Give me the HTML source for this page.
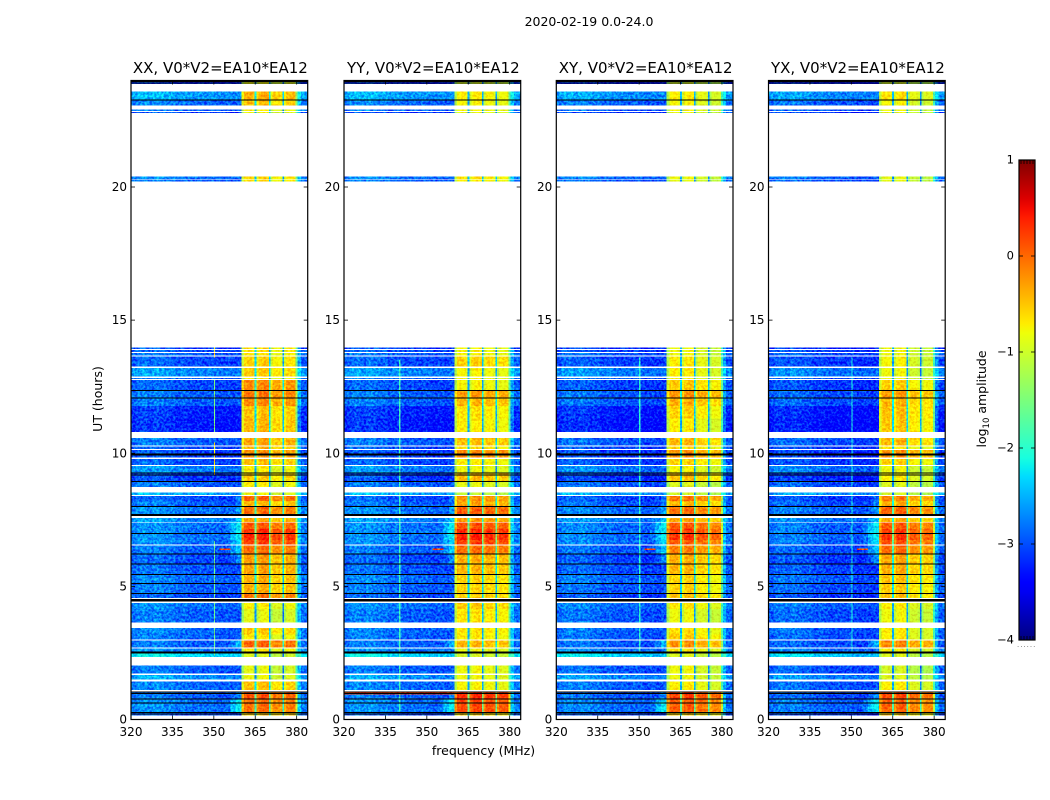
<!DOCTYPE html>
<html lang="en">
<head>
<meta charset="utf-8">
<title>2020-02-19 dynamic spectrum</title>
<style>
  html, body { margin: 0; padding: 0; background: #fff; }
  svg { display: block; }
  text { font-family: "DejaVu Sans", "Liberation Sans", sans-serif; fill: #000; }
</style>
</head>
<body>
<svg id="figure" xmlns="http://www.w3.org/2000/svg" width="1050" height="800" viewBox="0 0 1050 800">
  <defs>
    <filter id="speckle" filterUnits="userSpaceOnUse" x="0" y="0" width="1050" height="800" color-interpolation-filters="sRGB">
      <feTurbulence type="fractalNoise" baseFrequency="0.42" numOctaves="2" seed="7" result="noise"/>
      <feColorMatrix in="noise" type="matrix" values="0.4 0 0 0 0.3  2.4 0 0 0 -0.7  0.4 0 0 0 0.3  0 0 0 0 1" result="tint"/>
      <feComposite in="SourceGraphic" in2="tint" operator="arithmetic" k1="0" k2="1" k3="0.48" k4="-0.24" result="mixed"/>
      <feComposite in="mixed" in2="SourceAlpha" operator="in"/>
    </filter>
    <filter id="speckle-soft" filterUnits="userSpaceOnUse" x="0" y="0" width="1050" height="800" color-interpolation-filters="sRGB">
      <feTurbulence type="fractalNoise" baseFrequency="0.42" numOctaves="2" seed="11" result="noise"/>
      <feColorMatrix in="noise" type="matrix" values="0.4 0 0 0 0.3  2.4 0 0 0 -0.7  0.4 0 0 0 0.3  0 0 0 0 1" result="tint"/>
      <feComposite in="SourceGraphic" in2="tint" operator="arithmetic" k1="0" k2="1" k3="0.28" k4="-0.14" result="mixed"/>
      <feComposite in="mixed" in2="SourceAlpha" operator="in"/>
    </filter>
    <linearGradient id="jet-gradient" x1="0" y1="1" x2="0" y2="0"></linearGradient>
  </defs>
  <text x="589" y="26" font-size="12.5" text-anchor="middle">2020-02-19 0.0-24.0</text>
  <text x="483.5" y="755" font-size="12.5" text-anchor="middle">frequency (MHz)</text>
  <text x="102" y="399" font-size="12.5" text-anchor="middle" transform="rotate(-90 102 399)">UT (hours)</text>
  <text x="986" y="399" font-size="12.5" text-anchor="middle" transform="rotate(-90 986 399)">log<tspan font-size="8.5" dy="3">10</tspan><tspan dy="-3"> amplitude</tspan></text>
  <g id="heatmaps" filter="url(#speckle)" shape-rendering="crispEdges"></g>
  <g id="heatmaps-band" filter="url(#speckle-soft)" shape-rendering="crispEdges"></g>
  <g id="flags" shape-rendering="crispEdges"></g>
  <g id="axes"></g>
  <g id="colorbar"></g>
</svg>
<script>
// ---- Chart data (UT hours, MHz, log10 amplitude) ----
const panelTitles = ["XX, V0*V2=EA10*EA12", "YY, V0*V2=EA10*EA12", "XY, V0*V2=EA10*EA12", "YX, V0*V2=EA10*EA12"];
const freqTicks = [320, 335, 350, 365, 380];
const utTicks = [0, 5, 10, 15, 20];
const colorbarTicks = [1, 0, -1, -2, -3, -4];
const colorbarLabels = ["1", "0", "\u22121", "\u22122", "\u22123", "\u22124"];

const rowLo = [23.86,23.28,23.07,22.85,22.77,20.31,20.21,13.92,13.81,13.68,13.25,12.88,12.79,12.38,12.10,11.78,11.30,10.79,10.30,10.16,9.85,9.56,9.27,8.93,8.73,8.43,8.20,8.02,7.65,7.42,7.15,6.99,6.75,6.58,6.23,5.86,5.46,5.13,4.75,4.56,4.44,4.15,3.64,3.20,3.00,2.70,2.55,2.34,1.72,1.50,1.10,0.75,0.29,0.15];
const rowHi = [24.00,23.59,23.28,22.91,22.81,20.39,20.28,13.98,13.88,13.77,13.63,13.21,12.83,12.75,12.38,12.10,11.78,11.30,10.58,10.26,10.12,9.79,9.52,9.27,8.93,8.53,8.39,8.20,8.02,7.56,7.39,7.15,6.99,6.75,6.53,6.23,5.86,5.46,5.13,4.75,4.53,4.38,4.15,3.43,3.20,2.96,2.67,2.55,2.03,1.68,1.43,1.06,0.75,0.29];
const rowBackground = [-3.3,-2.7,-2.95,-3.0,-3.2,-2.9,-3.0,-3.2,-3.1,-3.0,-3.1,-2.8,-3.0,-3.1,-3.0,-3.0,-3.3,-3.35,-3.0,-3.1,-3.15,-3.1,-2.85,-3.2,-3.0,-2.65,-3.1,-3.0,-2.9,-2.8,-2.9,-2.9,-2.9,-2.9,-3.0,-3.1,-3.05,-2.95,-3.0,-3.1,-3.3,-2.9,-3.0,-2.95,-3.0,-3.0,-2.85,-2.4,-3.0,-2.75,-2.95,-3.0,-2.9,-3.1];
const rowShoulder = [-9,-9,-9,-9,-9,-9,-9,-9,-9,-9,-9,-9,-9,-9,-9,-9,-9,-9,-9,-9,-9,-9,-9,-9,-9,-9,-2.7,-2.7,-2.5,-2.3,-2.1,-2.1,-2.1,-2.2,-2.3,-2.6,-9,-9,-9,-9,-9,-9,-9,-9,-9,-2.4,-9,-9,-9,-9,-9,-2.6,-2.1,-9];

const levelsXX = [-0.9,-0.45,-0.55,-0.8,-0.9,-0.65,-0.7,-0.7,-0.7,-0.75,-0.65,-0.6,-0.8,-0.25,-0.15,-0.25,-0.55,-0.5,-0.4,-0.5,-0.3,-0.55,-0.8,-0.6,-0.8,-0.9,-0.05,-0.5,-0.1,-0.4,0.0,0.25,0.3,0.15,-0.1,-0.35,-0.4,-0.45,-0.45,-0.15,-0.6,-0.8,-0.95,-0.6,-0.8,-0.05,-0.75,-1.0,-0.95,-0.9,-0.55,0.05,-0.1,-0.6];
const levelsYY = [-1.0,-0.75,-0.8,-0.8,-0.9,-0.7,-0.75,-0.8,-0.8,-0.8,-0.6,-0.8,-0.8,-0.8,-0.3,-0.45,-0.7,-0.75,-0.5,-0.7,-0.2,-0.75,-0.85,-0.45,-0.9,-1.1,-0.25,-0.35,0.05,-0.3,0.1,0.3,0.35,0.2,-0.05,-0.4,-0.45,-0.6,-0.6,-0.55,-0.6,-0.55,-0.7,-0.7,-0.75,-0.45,-0.85,-1.0,-0.85,-0.85,-0.8,0.3,0.15,-0.6];
const levelsXY = [-1.0,-0.75,-0.8,-0.8,-0.9,-0.85,-0.9,-0.85,-0.85,-0.85,-0.75,-0.75,-0.8,-0.55,-0.25,-0.4,-0.6,-0.75,-0.45,-0.65,-0.25,-0.6,-0.8,-0.5,-0.95,-1.0,-0.1,-0.45,-0.05,-0.35,0.05,0.2,0.25,0.05,-0.15,-0.4,-0.45,-0.6,-0.6,-0.5,-0.7,-0.7,-0.85,-0.65,-0.55,-0.25,-0.7,-0.95,-0.85,-0.85,-0.75,0.2,0.05,-0.6];
const levelsYX = [-1.0,-0.7,-0.8,-0.85,-0.9,-0.9,-0.9,-0.85,-0.85,-0.85,-0.8,-0.85,-0.85,-0.6,-0.3,-0.45,-0.5,-0.55,-0.45,-0.7,-0.25,-0.6,-0.85,-0.75,-0.95,-1.0,-0.15,-0.4,0.0,-0.4,0.05,0.2,0.25,0.1,-0.05,-0.35,-0.4,-0.5,-0.55,-0.5,-0.7,-0.75,-0.85,-0.75,-0.75,-0.2,-0.75,-0.95,-1.0,-0.95,-0.75,0.15,0.0,-0.6];
const panelLevels = [levelsXX, levelsYY, levelsXY, levelsYX];

const subbandOffsetsXX = [0.1, 0.1, -0.1, 0];
const subbandOffsetsYY = [0.05, 0.05, 0, -0.05];
const subbandOffsetsXY = [0.05, 0.05, -0.1, -0.2];
const subbandOffsetsYX = [0.05, 0.05, -0.15, -0.2];
const panelSubbands = [subbandOffsetsXX, subbandOffsetsYY, subbandOffsetsXY, subbandOffsetsYX];
const panelBackgroundOffset = [0.1, 0.1, 0.05, 0];

const columnEdges = [320,322,324,326,328,330,332,334,336,338,340,342,344,346,348,350,352,354,356,358,360,361,362,363,364,364.8,365.5,366.2,367,368,369,369.9,370.5,371.2,372,373,374,374.9,375.5,376.2,377,378,379,379.6,380.3,381.5,384];
const backgroundRipple = [0.05,0.15,0.2,0.1,0.2,0.15,0.1,0.1,0,0.05,0,-0.05,0,-0.05,0,-0.05,-0.1,-0.05,-0.1,-0.05];
const shoulderShape = [-9,-9,-9,-9,-9,-9,-9,-9,-9,-9,-9,-9,-9,-9,-9,-9,-1.0,-0.7,-0.35,-0.1];
const channelShape = [-0.45,-0.05,0,0,-0.1,-1.8,-0.3,-0.05,0,0.05,0,-1.8,-0.3,0,0,0,-0.1,-1.8,-0.3,0,0,0,0,-0.9];
const channelSubband = [0,0,0,0,0,0,1,1,1,1,1,1,2,2,2,2,2,2,3,3,3,3,3,3];
const upperRipple = [0.45, 0.05];

const rfiPanel = [0,0,0,0,1,2,3];
const rfiFreq = [350,350,350,350,340,350,350];
const rfiLo = [13.6,10.8,9.2,2.4,0.3,2.5,2.5];
const rfiHi = [13.98,12.75,10.4,6.7,13.5,13.6,13.6];
const rfiLevel = [-0.5,-1.5,-0.7,-1.6,-1.9,-2.0,-2.1];

const burstPanel = [1,0,1,2,3];
const burstLo = [0.94,6.36,6.36,6.36,6.36];
const burstHi = [1.03,6.42,6.42,6.42,6.42];
const burstFreqLo = [320,352,352,352,352];
const burstFreqHi = [360,356,356,356,356];
const burstLevel = [0.25,0.2,0.2,0.2,0.2];

const flaggedLo = [23.95,23.89,23.25,12.35,12.08,9.97,9.92,9.25,9.19,8.93,8.00,7.65,6.99,6.21,5.83,5.42,5.09,4.73,4.44,2.48,1.04,0.97,0.75,0.61,0.26,0.20];
const flaggedHi = [23.98,23.92,23.28,12.38,12.10,10.00,9.95,9.27,9.21,8.95,8.02,7.71,7.01,6.23,5.86,5.46,5.13,4.75,4.53,2.55,1.06,0.99,0.79,0.64,0.29,0.23];

// ---- Layout ----
const panelLeft = [131, 344, 556.3, 768.5];
const panelWidth = 176.7;
const plotTop = 80.5, plotBottom = 719.5;
const freqMin = 320, freqMax = 384, utMin = 0, utMax = 24, ampMin = -4, ampMax = 1;
const cbLeft = 1019, cbWidth = 16, cbTop = 160, cbBottom = 640;
const NS = "http://www.w3.org/2000/svg";

function xScale(p, f) { return panelLeft[p] + (f - freqMin) / (freqMax - freqMin) * panelWidth; }
function yScale(ut) { return plotBottom - (ut - utMin) / (utMax - utMin) * (plotBottom - plotTop); }
function cbScale(v) { return cbBottom - (v - ampMin) / (ampMax - ampMin) * (cbBottom - cbTop); }

function ramp(t, pts) {
  if (t <= pts[0][0]) return pts[0][1];
  for (let i = 1; i < pts.length; i++) {
    if (t <= pts[i][0]) {
      const a = pts[i - 1], b = pts[i];
      return a[1] + (b[1] - a[1]) * (t - a[0]) / (b[0] - a[0]);
    }
  }
  return pts[pts.length - 1][1];
}
function jet(v) {
  const t = Math.max(0, Math.min(1, (v - ampMin) / (ampMax - ampMin)));
  const r = ramp(t, [[0.35, 0], [0.66, 1], [0.89, 1], [1, 0.5]]);
  const g = ramp(t, [[0.125, 0], [0.375, 1], [0.64, 1], [0.91, 0]]);
  const b = ramp(t, [[0, 0.5], [0.11, 1], [0.34, 1], [0.65, 0]]);
  return "rgb(" + Math.round(r * 255) + "," + Math.round(g * 255) + "," + Math.round(b * 255) + ")";
}
function svgEl(tag, attrs) {
  const el = document.createElementNS(NS, tag);
  for (const k in attrs) el.setAttribute(k, attrs[k]);
  return el;
}
function columnValue(p, r, c) {
  const bg = rowBackground[r] + panelBackgroundOffset[p];
  const nLow = backgroundRipple.length;
  if (c < nLow) return Math.max(bg + backgroundRipple[c], rowShoulder[r] + shoulderShape[c]);
  const k = c - nLow;
  if (k < channelShape.length) return panelLevels[p][r] + panelSubbands[p][channelSubband[k]] + channelShape[k];
  return bg + upperRipple[k - channelShape.length];
}
function isBandColumn(c) {
  const k = c - backgroundRipple.length;
  return k >= 0 && k < channelShape.length;
}

// ---- Heatmap cells ----
const heatLayer = document.getElementById("heatmaps");
const bandLayer = document.getElementById("heatmaps-band");
panelTitles.forEach(function (title, p) {
  const group = svgEl("g", {});
  
  
  const bandGroup = svgEl("g", {});
  
  
  for (let r = 0; r < rowLo.length; r++) {
    const y0 = yScale(rowHi[r]), y1 = yScale(rowLo[r]);
    for (let c = 0; c < columnEdges.length - 1; c++) {
      const x0 = xScale(p, columnEdges[c]), x1 = xScale(p, columnEdges[c + 1]);
      const cell = svgEl("rect", { x: x0.toFixed(2), y: y0.toFixed(2), width: (x1 - x0).toFixed(2), height: (y1 - y0).toFixed(2), fill: jet(columnValue(p, r, c)) });
      
      
      (isBandColumn(c) ? bandGroup : group).appendChild(cell);
    }
    // Narrow-band interference: vertical lines clipped to rows that hold data
    for (let i = 0; i < rfiFreq.length; i++) {
      if (rfiPanel[i] !== p) continue;
      const lo = Math.max(rowLo[r], rfiLo[i]), hi = Math.min(rowHi[r], rfiHi[i]);
      if (hi <= lo) continue;
      const line = svgEl("rect", { x: xScale(p, rfiFreq[i]).toFixed(2), y: yScale(hi).toFixed(2), width: 1.2, height: (yScale(lo) - yScale(hi)).toFixed(2), fill: jet(rfiLevel[i]) });
      
      
      group.appendChild(line);
    }
  }
  // Short bursts
  for (let i = 0; i < burstPanel.length; i++) {
    if (burstPanel[i] !== p) continue;
    const xa = xScale(p, burstFreqLo[i]), xb = xScale(p, burstFreqHi[i]);
    const burst = svgEl("rect", { x: xa.toFixed(2), y: yScale(burstHi[i]).toFixed(2), width: (xb - xa).toFixed(2), height: (yScale(burstLo[i]) - yScale(burstHi[i])).toFixed(2), fill: jet(burstLevel[i]) });
    
    
    group.appendChild(burst);
  }
  heatLayer.appendChild(group);
  bandLayer.appendChild(bandGroup);
});

// ---- Flagged (black) time lines ----
const flagLayer = document.getElementById("flags");
panelTitles.forEach(function (title, p) {
  for (let i = 0; i < flaggedLo.length; i++) {
    const x0 = xScale(p, freqMin), x1 = xScale(p, freqMax);
    const y0 = yScale(flaggedHi[i]), y1 = yScale(flaggedLo[i]);
    const flag = svgEl("rect", { x: x0.toFixed(2), y: y0.toFixed(2), width: (x1 - x0).toFixed(2), height: Math.max(1, y1 - y0).toFixed(2), fill: "#000" });
    
    
    flagLayer.appendChild(flag);
  }
});

// ---- Axes ----
const axesLayer = document.getElementById("axes");
panelTitles.forEach(function (title, p) {
  const left = panelLeft[p], right = left + panelWidth;
  const frame = svgEl("rect", { x: left, y: plotTop, width: panelWidth, height: plotBottom - plotTop, fill: "none", stroke: "#000", "stroke-width": 1.2 });
  
  
  axesLayer.appendChild(frame);

  const label = svgEl("text", { x: left + panelWidth / 2 + 1, y: 73, "font-size": 15, "text-anchor": "middle" });
  
  
  label.textContent = title;
  axesLayer.appendChild(label);

  freqTicks.forEach(function (f) {
    const x = xScale(p, f);
    const bottomTick = svgEl("line", { x1: x, x2: x, y1: plotBottom, y2: plotBottom - 4, stroke: "#000", "stroke-width": 0.8 });
    
    
    axesLayer.appendChild(bottomTick);
    const topTick = svgEl("line", { x1: x, x2: x, y1: plotTop, y2: plotTop + 4, stroke: "#000", "stroke-width": 0.8 });
    
    
    axesLayer.appendChild(topTick);
    const xLabel = svgEl("text", { x: x, y: 736, "font-size": 12, "text-anchor": "middle" });
    
    
    xLabel.textContent = String(f);
    axesLayer.appendChild(xLabel);
  });

  utTicks.forEach(function (u) {
    const y = yScale(u);
    const leftTick = svgEl("line", { x1: left, x2: left + 4, y1: y, y2: y, stroke: "#000", "stroke-width": 0.8 });
    
    
    axesLayer.appendChild(leftTick);
    const rightTick = svgEl("line", { x1: right, x2: right - 4, y1: y, y2: y, stroke: "#000", "stroke-width": 0.8 });
    
    
    axesLayer.appendChild(rightTick);
    const yLabel = svgEl("text", { x: left - 4, y: y + 4, "font-size": 12, "text-anchor": "end" });
    
    
    yLabel.textContent = String(u);
    axesLayer.appendChild(yLabel);
  });
});

// ---- Colorbar ----
const gradient = document.getElementById("jet-gradient");
for (let i = 0; i <= 50; i++) {
  const stop = svgEl("stop", { offset: (i * 2) + "%", "stop-color": jet(ampMin + (ampMax - ampMin) * i / 50) });
  gradient.appendChild(stop);
}
const cbLayer = document.getElementById("colorbar");
const cbBar = svgEl("rect", { x: cbLeft, y: cbTop, width: cbWidth, height: cbBottom - cbTop, fill: "url(#jet-gradient)", stroke: "#000", "stroke-width": 1.2 });


cbLayer.appendChild(cbBar);
colorbarTicks.forEach(function (v, i) {
  const y = cbScale(v);
  const tickL = svgEl("line", { x1: cbLeft, x2: cbLeft + 4, y1: y, y2: y, stroke: "#000", "stroke-width": 0.8 });
  
  
  cbLayer.appendChild(tickL);
  const tickR = svgEl("line", { x1: cbLeft + cbWidth, x2: cbLeft + cbWidth - 4, y1: y, y2: y, stroke: "#000", "stroke-width": 0.8 });
  
  
  cbLayer.appendChild(tickR);
  const cbLabel = svgEl("text", { x: cbLeft - 5, y: y + 3.5, "font-size": 11.5, "text-anchor": "end" });
  
  
  cbLabel.textContent = colorbarLabels[i];
  cbLayer.appendChild(cbLabel);
});
for (let i = 0; i < 5; i++) {
  const x = cbLeft + 2 + i * 3;
  const minorTop = svgEl("line", { x1: x, x2: x, y1: cbTop, y2: cbTop + 4, stroke: "#000", "stroke-width": 0.8 });
  
  
  cbLayer.appendChild(minorTop);
  const minorBottom = svgEl("line", { x1: x, x2: x, y1: cbBottom, y2: cbBottom - 4, stroke: "#000", "stroke-width": 0.8 });
  
  
  cbLayer.appendChild(minorBottom);
}
const cbDots = svgEl("text", { x: 1017, y: 647, "font-size": 7, "letter-spacing": 1, style: "fill:#666" });


cbDots.textContent = "......";
cbLayer.appendChild(cbDots);
</script>
</body>
</html>
